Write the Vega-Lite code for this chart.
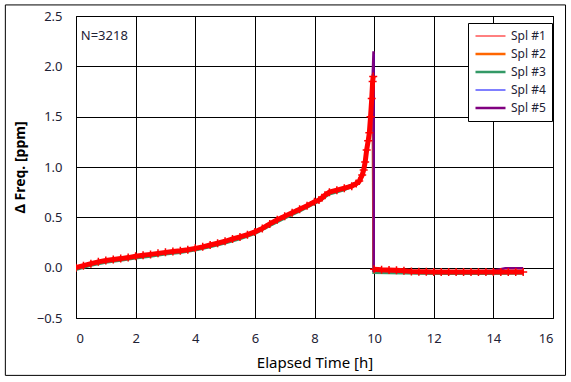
{
  "$schema": "https://vega.github.io/schema/vega-lite/v6.json",
  "autosize": "none",
  "padding": {"left": 76, "top": 16, "right": 18, "bottom": 64},
  "width": 477,
  "height": 302,
  "background": "white",
  "config": {
    "font": "Noto Sans",
    "view": {"stroke": "black", "strokeWidth": 1},
    "axis": {"grid": true, "gridColor": "black", "gridOpacity": 1, "gridWidth": 1, "ticks": false, "domain": false, "labelColor": "#1e2235", "labelFontSize": 13, "labelPadding": 14, "titleColor": "black"}
  },
  "datasets": {
    "d": [
      {"s":"Spl #3","t":0,"v":-0.02},{"s":"Spl #3","t":0.5,"v":0.02},{"s":"Spl #3","t":1,"v":0.052},{"s":"Spl #3","t":1.5,"v":0.07},{"s":"Spl #3","t":2,"v":0.093},{"s":"Spl #3","t":2.5,"v":0.112},{"s":"Spl #3","t":3,"v":0.132},{"s":"Spl #3","t":3.5,"v":0.148},{"s":"Spl #3","t":4,"v":0.172},{"s":"Spl #3","t":4.5,"v":0.205},{"s":"Spl #3","t":5,"v":0.242},{"s":"Spl #3","t":5.5,"v":0.285},{"s":"Spl #3","t":6,"v":0.335},{"s":"Spl #3","t":6.5,"v":0.415},{"s":"Spl #3","t":7,"v":0.49},{"s":"Spl #3","t":7.5,"v":0.56},{"s":"Spl #3","t":8,"v":0.635},{"s":"Spl #3","t":8.25,"v":0.675},{"s":"Spl #3","t":8.35,"v":0.7},{"s":"Spl #3","t":8.5,"v":0.73},{"s":"Spl #3","t":9,"v":0.77},{"s":"Spl #3","t":9.5,"v":0.84},{"s":"Spl #3","t":9.6,"v":0.9},{"s":"Spl #3","t":9.7,"v":1.03},{"s":"Spl #3","t":9.8,"v":1.24},{"s":"Spl #3","t":9.88,"v":1.48},{"s":"Spl #3","t":9.92,"v":1.66},{"s":"Spl #3","t":9.96,"v":1.78},{"s":"Spl #3","t":9.98,"v":-0.05},{"s":"Spl #3","t":11,"v":-0.055},{"s":"Spl #3","t":12,"v":-0.06},{"s":"Spl #3","t":13,"v":-0.06},{"s":"Spl #3","t":14,"v":-0.06},{"s":"Spl #3","t":15,"v":-0.058},
      {"s":"Spl #2","t":0,"v":0},{"s":"Spl #2","t":0.5,"v":0.04},{"s":"Spl #2","t":1,"v":0.072},{"s":"Spl #2","t":1.5,"v":0.09},{"s":"Spl #2","t":2,"v":0.113},{"s":"Spl #2","t":2.5,"v":0.132},{"s":"Spl #2","t":3,"v":0.152},{"s":"Spl #2","t":3.5,"v":0.168},{"s":"Spl #2","t":4,"v":0.192},{"s":"Spl #2","t":4.5,"v":0.225},{"s":"Spl #2","t":5,"v":0.262},{"s":"Spl #2","t":5.5,"v":0.305},{"s":"Spl #2","t":6,"v":0.355},{"s":"Spl #2","t":6.5,"v":0.435},{"s":"Spl #2","t":7,"v":0.51},{"s":"Spl #2","t":7.5,"v":0.58},{"s":"Spl #2","t":8,"v":0.655},{"s":"Spl #2","t":8.25,"v":0.695},{"s":"Spl #2","t":8.35,"v":0.72},{"s":"Spl #2","t":8.5,"v":0.75},{"s":"Spl #2","t":9,"v":0.79},{"s":"Spl #2","t":9.5,"v":0.86},{"s":"Spl #2","t":9.6,"v":0.92},{"s":"Spl #2","t":9.7,"v":1.05},{"s":"Spl #2","t":9.8,"v":1.26},{"s":"Spl #2","t":9.88,"v":1.5},{"s":"Spl #2","t":9.92,"v":1.7},{"s":"Spl #2","t":9.95,"v":1.92},{"s":"Spl #2","t":9.98,"v":-0.03},{"s":"Spl #2","t":11,"v":-0.035},{"s":"Spl #2","t":12,"v":-0.04},{"s":"Spl #2","t":13,"v":-0.04},{"s":"Spl #2","t":14,"v":-0.04},{"s":"Spl #2","t":15,"v":-0.04},
      {"s":"Spl #1","t":0,"v":0},{"s":"Spl #1","t":0.25,"v":0.02},{"s":"Spl #1","t":0.5,"v":0.04},{"s":"Spl #1","t":0.75,"v":0.058},{"s":"Spl #1","t":1,"v":0.072},{"s":"Spl #1","t":1.25,"v":0.082},{"s":"Spl #1","t":1.5,"v":0.09},{"s":"Spl #1","t":1.75,"v":0.1},{"s":"Spl #1","t":2,"v":0.113},{"s":"Spl #1","t":2.25,"v":0.123},{"s":"Spl #1","t":2.5,"v":0.132},{"s":"Spl #1","t":2.75,"v":0.142},{"s":"Spl #1","t":3,"v":0.152},{"s":"Spl #1","t":3.25,"v":0.16},{"s":"Spl #1","t":3.5,"v":0.168},{"s":"Spl #1","t":3.75,"v":0.178},{"s":"Spl #1","t":4,"v":0.192},{"s":"Spl #1","t":4.25,"v":0.207},{"s":"Spl #1","t":4.5,"v":0.225},{"s":"Spl #1","t":4.75,"v":0.243},{"s":"Spl #1","t":5,"v":0.262},{"s":"Spl #1","t":5.25,"v":0.285},{"s":"Spl #1","t":5.5,"v":0.305},{"s":"Spl #1","t":5.75,"v":0.328},{"s":"Spl #1","t":6,"v":0.355},{"s":"Spl #1","t":6.25,"v":0.39},{"s":"Spl #1","t":6.5,"v":0.435},{"s":"Spl #1","t":6.75,"v":0.475},{"s":"Spl #1","t":7,"v":0.51},{"s":"Spl #1","t":7.25,"v":0.545},{"s":"Spl #1","t":7.5,"v":0.58},{"s":"Spl #1","t":7.75,"v":0.615},{"s":"Spl #1","t":8,"v":0.655},{"s":"Spl #1","t":8.15,"v":0.672},{"s":"Spl #1","t":8.25,"v":0.695},{"s":"Spl #1","t":8.35,"v":0.72},{"s":"Spl #1","t":8.5,"v":0.75},{"s":"Spl #1","t":8.75,"v":0.77},{"s":"Spl #1","t":9,"v":0.79},{"s":"Spl #1","t":9.25,"v":0.81},{"s":"Spl #1","t":9.4,"v":0.835},{"s":"Spl #1","t":9.5,"v":0.86},{"s":"Spl #1","t":9.6,"v":0.92},{"s":"Spl #1","t":9.65,"v":0.97},{"s":"Spl #1","t":9.7,"v":1.05},{"s":"Spl #1","t":9.75,"v":1.17},{"s":"Spl #1","t":9.8,"v":1.26},{"s":"Spl #1","t":9.84,"v":1.34},{"s":"Spl #1","t":9.88,"v":1.5},{"s":"Spl #1","t":9.92,"v":1.68},{"s":"Spl #1","t":9.95,"v":1.85},{"s":"Spl #1","t":9.97,"v":1.9},{"s":"Spl #1","t":10.0,"v":-0.015},{"s":"Spl #1","t":10.25,"v":-0.02},{"s":"Spl #1","t":10.5,"v":-0.022},{"s":"Spl #1","t":10.75,"v":-0.025},{"s":"Spl #1","t":11,"v":-0.03},{"s":"Spl #1","t":11.25,"v":-0.038},{"s":"Spl #1","t":11.5,"v":-0.04},{"s":"Spl #1","t":11.75,"v":-0.04},{"s":"Spl #1","t":12,"v":-0.042},{"s":"Spl #1","t":12.25,"v":-0.042},{"s":"Spl #1","t":12.5,"v":-0.043},{"s":"Spl #1","t":12.75,"v":-0.043},{"s":"Spl #1","t":13,"v":-0.043},{"s":"Spl #1","t":13.25,"v":-0.043},{"s":"Spl #1","t":13.5,"v":-0.044},{"s":"Spl #1","t":13.75,"v":-0.044},{"s":"Spl #1","t":14,"v":-0.044},{"s":"Spl #1","t":14.25,"v":-0.044},{"s":"Spl #1","t":14.5,"v":-0.043},{"s":"Spl #1","t":14.75,"v":-0.043},{"s":"Spl #1","t":15,"v":-0.042},
      {"s":"Spl #4","t":0,"v":0},{"s":"Spl #4","t":0.5,"v":0.04},{"s":"Spl #4","t":1,"v":0.072},{"s":"Spl #4","t":1.5,"v":0.09},{"s":"Spl #4","t":2,"v":0.113},{"s":"Spl #4","t":2.5,"v":0.132},{"s":"Spl #4","t":3,"v":0.152},{"s":"Spl #4","t":3.5,"v":0.168},{"s":"Spl #4","t":4,"v":0.192},{"s":"Spl #4","t":4.5,"v":0.225},{"s":"Spl #4","t":5,"v":0.262},{"s":"Spl #4","t":5.5,"v":0.305},{"s":"Spl #4","t":6,"v":0.355},{"s":"Spl #4","t":6.5,"v":0.435},{"s":"Spl #4","t":7,"v":0.51},{"s":"Spl #4","t":7.5,"v":0.58},{"s":"Spl #4","t":8,"v":0.655},{"s":"Spl #4","t":8.25,"v":0.695},{"s":"Spl #4","t":8.35,"v":0.72},{"s":"Spl #4","t":8.5,"v":0.75},{"s":"Spl #4","t":9,"v":0.79},{"s":"Spl #4","t":9.5,"v":0.86},{"s":"Spl #4","t":9.6,"v":0.92},{"s":"Spl #4","t":9.7,"v":1.05},{"s":"Spl #4","t":9.8,"v":1.26},{"s":"Spl #4","t":9.88,"v":1.5},{"s":"Spl #4","t":9.92,"v":1.68},{"s":"Spl #4","t":9.95,"v":1.88},{"s":"Spl #4","t":10.0,"v":2.12},{"s":"Spl #4","t":10.005,"v":-0.03},{"s":"Spl #4","t":11,"v":-0.035},{"s":"Spl #4","t":12,"v":-0.04},{"s":"Spl #4","t":13,"v":-0.04},{"s":"Spl #4","t":14,"v":-0.04},{"s":"Spl #4","t":15,"v":-0.04},
      {"s":"Spl #5","t":0,"v":0},{"s":"Spl #5","t":0.5,"v":0.04},{"s":"Spl #5","t":1,"v":0.072},{"s":"Spl #5","t":1.5,"v":0.09},{"s":"Spl #5","t":2,"v":0.113},{"s":"Spl #5","t":2.5,"v":0.132},{"s":"Spl #5","t":3,"v":0.152},{"s":"Spl #5","t":3.5,"v":0.168},{"s":"Spl #5","t":4,"v":0.192},{"s":"Spl #5","t":4.5,"v":0.225},{"s":"Spl #5","t":5,"v":0.262},{"s":"Spl #5","t":5.5,"v":0.305},{"s":"Spl #5","t":6,"v":0.355},{"s":"Spl #5","t":6.5,"v":0.435},{"s":"Spl #5","t":7,"v":0.51},{"s":"Spl #5","t":7.5,"v":0.58},{"s":"Spl #5","t":8,"v":0.655},{"s":"Spl #5","t":8.25,"v":0.695},{"s":"Spl #5","t":8.35,"v":0.72},{"s":"Spl #5","t":8.5,"v":0.75},{"s":"Spl #5","t":9,"v":0.79},{"s":"Spl #5","t":9.5,"v":0.86},{"s":"Spl #5","t":9.6,"v":0.92},{"s":"Spl #5","t":9.7,"v":1.05},{"s":"Spl #5","t":9.8,"v":1.26},{"s":"Spl #5","t":9.88,"v":1.5},{"s":"Spl #5","t":9.92,"v":1.68},{"s":"Spl #5","t":9.95,"v":1.88},{"s":"Spl #5","t":9.98,"v":2.15},{"s":"Spl #5","t":9.985,"v":-0.03},{"s":"Spl #5","t":11,"v":-0.035},{"s":"Spl #5","t":12,"v":-0.04},{"s":"Spl #5","t":13,"v":-0.04},{"s":"Spl #5","t":14,"v":-0.03},{"s":"Spl #5","t":14.4,"v":-0.005},{"s":"Spl #5","t":15,"v":-0.005}
    ]
  },
  "layer": [
    {
      "data": {"values": [{}]},
      "mark": {"type": "rect", "fill": null, "filled": false, "stroke": "black", "strokeWidth": 1},
      "encoding": {
        "x": {"datum": -2.37, "type": "quantitative"},
        "x2": {"datum": 16.42},
        "y": {"datum": 2.61, "type": "quantitative"},
        "y2": {"datum": -1.07}
      }
    },
    {
      "data": {"name": "d"},
      "mark": {"type": "line", "clip": true},
      "encoding": {
        "x": {"field": "t", "type": "quantitative", "scale": {"domain": [0, 16], "nice": false},
          "axis": {"values": [0,2,4,6,8,10,12,14,16], "title": "Elapsed Time [h]", "titleFontSize": 15, "titleFontWeight": "normal", "titlePadding": 10}},
        "y": {"field": "v", "type": "quantitative", "scale": {"domain": [-0.5, 2.5], "nice": false},
          "axis": {"values": [-0.5,0,0.5,1,1.5,2,2.5], "format": ".1f", "title": "Δ Freq. [ppm]", "titleFontSize": 14, "titleFontWeight": "bold", "titlePadding": 9}},
        "color": {"field": "s", "type": "nominal",
          "scale": {"domain": ["Spl #1","Spl #2","Spl #3","Spl #4","Spl #5"], "range": ["#ff0000","#ff6600","#339966","#0000ff","#800080"]},
          "legend": {"title": null, "orient": "none", "legendX": 392, "legendY": 7, "strokeColor": "black", "fillColor": "white", "padding": 6, "symbolType": "stroke", "symbolSize": 900, "clipHeight": 14, "labelFontSize": 12, "labelColor": "#1e2235", "rowPadding": 4, "labelOffset": 4, "cornerRadius": 0}},
        "strokeWidth": {"field": "s", "type": "nominal",
          "scale": {"type": "ordinal", "domain": ["Spl #1","Spl #2","Spl #3","Spl #4","Spl #5"], "range": [1, 2.5, 2.5, 1, 2.5]},
          "legend": {"title": null}},
        "order": {"field": "t", "type": "quantitative"}
      }
    },
    {
      "data": {"name": "d"},
      "transform": [{"filter": "datum.s === 'Spl #1'"}, {"calculate": "datum.t < 9.99 ? 'pre' : 'post'", "as": "seg"}],
      "mark": {"type": "line", "color": "#ff0000", "strokeWidth": 5, "clip": true},
      "encoding": {
        "x": {"field": "t", "type": "quantitative"},
        "y": {"field": "v", "type": "quantitative"},
        "detail": {"field": "seg", "type": "nominal"},
        "order": {"field": "t", "type": "quantitative"}
      }
    },
    {
      "data": {"name": "d"},
      "transform": [{"filter": "datum.s === 'Spl #1'"}],
      "mark": {"type": "point", "shape": "M-1,0H1M0,-1V1", "filled": false, "stroke": "#ff0000", "strokeWidth": 1.5, "size": 64, "opacity": 1, "clip": true},
      "encoding": {
        "x": {"field": "t", "type": "quantitative"},
        "y": {"field": "v", "type": "quantitative"}
      }
    },
    {
      "data": {"values": [{"label": "N=3218"}]},
      "mark": {"type": "text", "align": "left", "baseline": "middle", "fontSize": 13, "color": "#1e2235"},
      "encoding": {
        "x": {"datum": 0.16, "type": "quantitative"},
        "y": {"datum": 2.3, "type": "quantitative"},
        "text": {"field": "label"}
      }
    }
  ]
}
